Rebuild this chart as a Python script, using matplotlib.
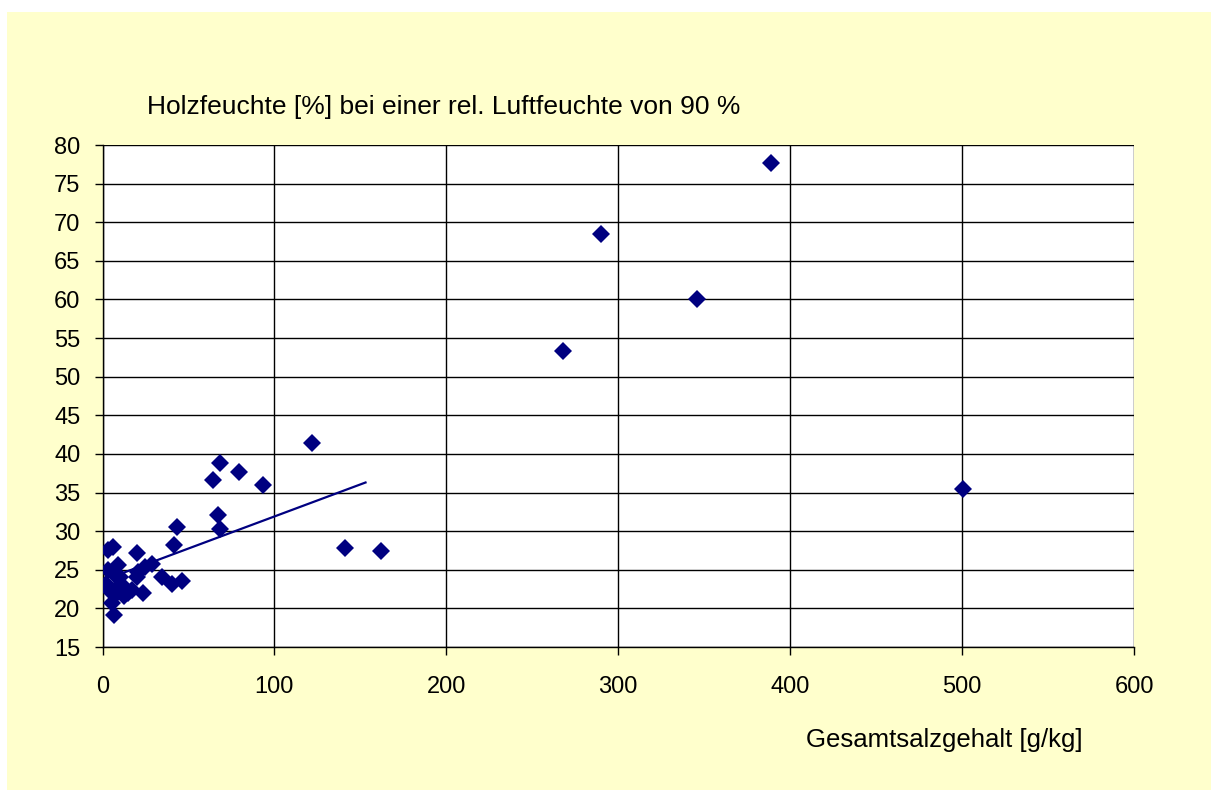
import matplotlib
matplotlib.use("Agg")
import matplotlib.pyplot as plt
from matplotlib.patches import Rectangle

plt.rcParams['font.family'] = ['Liberation Sans', 'DejaVu Sans']

# Data: Gesamtsalzgehalt [g/kg] vs Holzfeuchte [%]
salt = [388.7, 289.8, 345.6, 267.7, 500.3, 121.6, 141.0, 161.9,
        68.3, 64.1, 79.5, 93.5, 67.0, 68.3, 43.1, 41.8,
        19.9, 28.6, 24.7, 20.8, 34.4, 40.2, 46.0, 23.7, 6.9,
        3.0, 6.0, 3.0, 2.0, 4.5, 7.0, 5.5, 9.0, 7.5, 10.0,
        9.5, 12.5, 15.0, 11.0, 17.0, 20.0]
moisture = [77.7, 68.5, 60.0, 53.3, 35.4, 41.4, 27.8, 27.4,
            38.8, 36.6, 37.6, 36.0, 32.1, 30.3, 30.6, 28.2,
            27.2, 25.8, 25.4, 24.7, 24.0, 23.2, 23.5, 22.0, 19.2,
            27.5, 28.0, 25.0, 23.2, 22.3, 21.7, 20.7, 25.6, 24.3, 24.0,
            22.6, 21.6, 22.0, 23.1, 22.4, 24.1]

# Linear trend line (endpoints)
trend_x = [12, 153]
trend_y = [24.6, 36.3]

title = "Holzfeuchte [%] bei einer rel. Luftfeuchte von 90 %"
xlabel = "Gesamtsalzgehalt [g/kg]"
xticks = [0, 100, 200, 300, 400, 500, 600]
yticks = list(range(15, 81, 5))

W, H = 1211, 790
fig = plt.figure(figsize=(W / 100, H / 100), dpi=100)
fig.patch.set_facecolor('white')
bg = Rectangle((7 / W, 0), 1 - 7 / W, 1 - 12 / H,
               transform=fig.transFigure, facecolor='#FFFFCC',
               edgecolor='none', zorder=-10)
fig.add_artist(bg)

ax = fig.add_axes([102.5 / W, 1 - 647 / H, (1134 - 102.5) / W, (647 - 145) / H])
ax.set_zorder(1)
ax.set_facecolor('white')
ax.set_xlim(0, 600)
ax.set_ylim(15, 80)
ax.set_xticks(xticks)
ax.set_yticks(yticks)
ax.grid(True, color='black', linewidth=1.0)
ax.set_axisbelow(True)
for s in ax.spines.values():
    s.set_color('black')
    s.set_linewidth(1.0)
ax.spines['top'].set_visible(False)
ax.spines['right'].set_visible(False)
ax.tick_params(axis='both', direction='out', length=6, width=1, labelsize=17,
               colors='black')
ax.tick_params(axis='x', pad=15)
ax.tick_params(axis='y', pad=10)

ax.plot(trend_x, trend_y, color='#000080', linewidth=1.6, zorder=3)
ax.plot(salt, moisture, linestyle='none', marker='D', markersize=9.5,
        color='#000080', markeredgewidth=0, zorder=4)

fig.text(147 / W, 1 - 107 / H, title, fontsize=19, ha='left', va='center')
fig.text(1083 / W, 1 - 740 / H, xlabel, fontsize=18.5, ha='right', va='center')

fig.savefig('out.png', dpi=100, facecolor=fig.get_facecolor())
